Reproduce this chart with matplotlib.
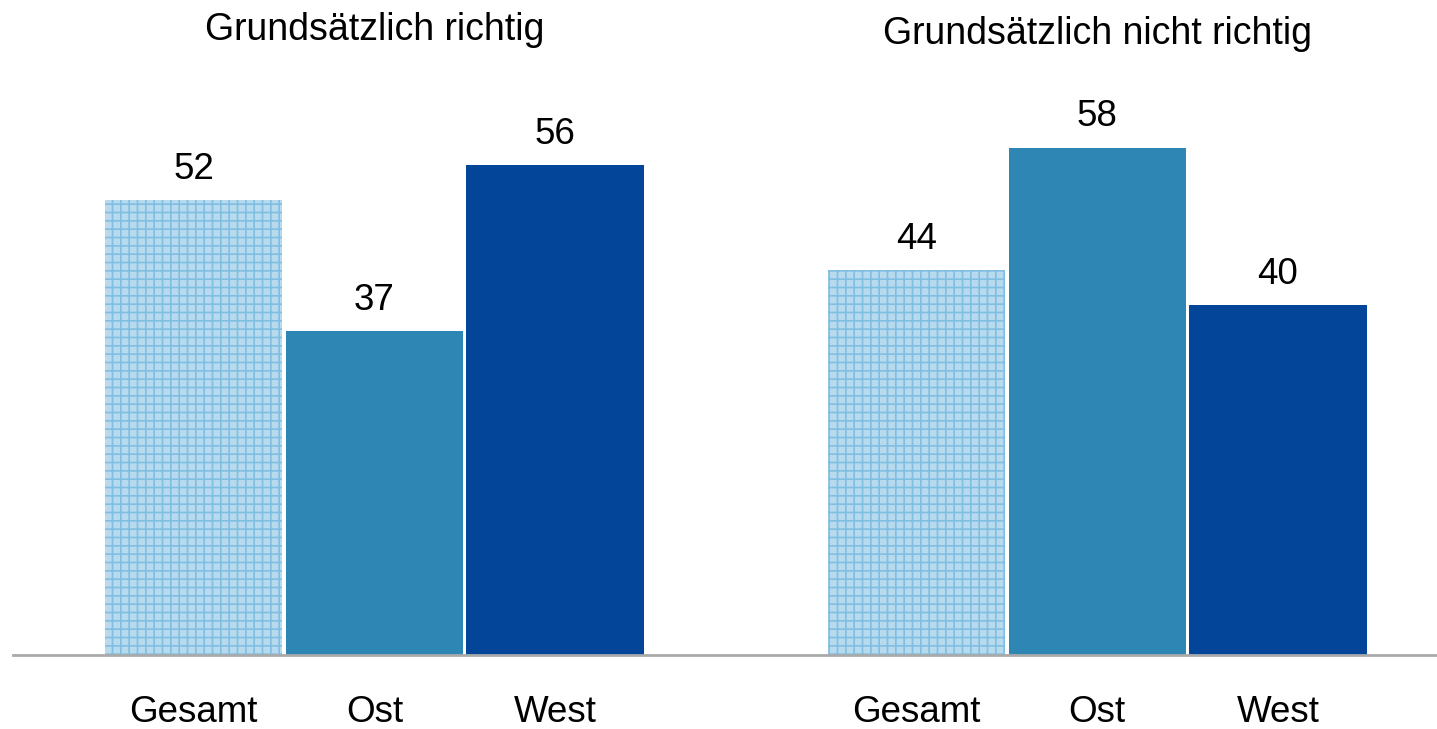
import numpy as np
import matplotlib
matplotlib.use("Agg")
from matplotlib import pyplot as plt

plt.rcParams["font.family"] = ["Liberation Sans", "DejaVu Sans"]
plt.rcParams["hatch.linewidth"] = 1.2

groups = ["Grundsätzlich richtig", "Grundsätzlich nicht richtig"]
regions = ["Gesamt", "Ost", "West"]
values = [[52, 37, 56], [44, 58, 40]]

fill_colors = ["#b7daee", "#2e86b4", "#034699"]
hatch_color = "#80bfe2"

fig = plt.figure(figsize=(14.37, 7.29), dpi=100)
ax = fig.add_axes([13 / 1437, 74 / 729, 1 - 13 / 1437, 612.5 / 729])

positions = []
labels = []
for g, vals in enumerate(values):
    for i, v in enumerate(vals):
        x = g * 4 + i
        positions.append(x)
        labels.append(regions[i])
        if i == 0:
            ax.bar(x, v, width=0.982, color=fill_colors[0], edgecolor=hatch_color,
                   hatch="++", linewidth=0)
        else:
            ax.bar(x, v, width=0.982, color=fill_colors[i], linewidth=0)
        ax.annotate(str(v), (x, v), xytext=(0, 13), textcoords="offset pixels",
                    ha="center", va="bottom", fontsize=26.5)

ax.set_xlim(-1.0, 6.88)
ax.set_ylim(0, 70)
ax.set_xticks(positions)
ax.set_xticklabels(labels, fontsize=26.5)
ax.tick_params(axis="x", length=0, pad=29)
ax.set_yticks([])
for side in ["top", "right", "left"]:
    ax.spines[side].set_visible(False)
ax.spines["bottom"].set_color("#aaaaaa")
ax.spines["bottom"].set_linewidth(2)

title_offsets = [-6, -9]
for g, title in enumerate(groups):
    ax.annotate(title, (g * 4 + 1, 1.0), xycoords=ax.get_xaxis_transform(),
                xytext=(0, title_offsets[g]), textcoords="offset pixels",
                ha="center", va="bottom", fontsize=27)

fig.savefig("out.png", dpi=100)
